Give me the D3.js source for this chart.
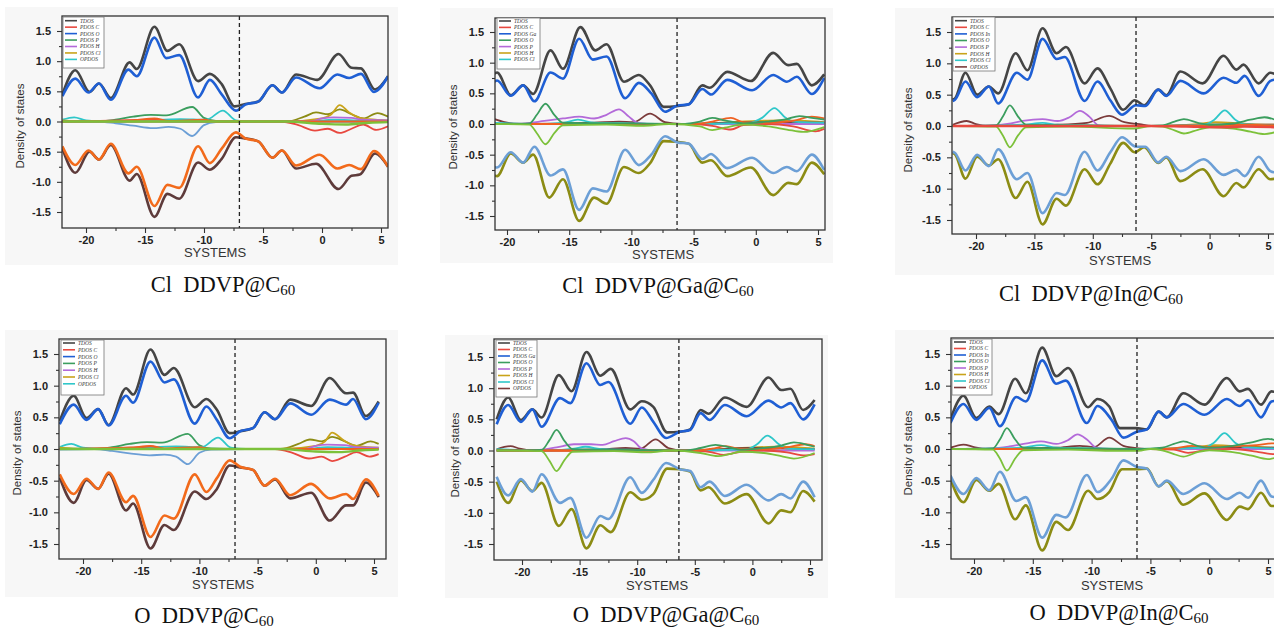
<!DOCTYPE html>
<html>
<head>
<meta charset="utf-8">
<script src="https://cdn.jsdelivr.net/npm/d3@7"></script>
<style>
  body { margin: 0; background: #fff; }
  svg { display: block; }
</style>
</head>
<body>
<svg id="chart" width="1274" height="631"></svg>
<script>
// ---- colours used by the DOS curves
const colTdos = '#454545', colMain = '#1f5fd4', colBrownDn = '#5e3b3b', colOrangeDn = '#f26a1b';
const colOliveDn = '#8c8c14', colSteelDn = '#6c9fd6', colGreen = '#3b9e5e', colLime = '#7cc13a';
const colPurple = '#b36ad9', colCyan = '#2fc7c9', colRed = '#e8483f', colGold = '#c9a31a';
const colBrown = '#7b3b3b', colOrange = '#f06020';

// ---- tick labels
const xMajor = [-20, -15, -10, -5, 0, 5];
const xMinor = [-17.5, -12.5, -7.5, -2.5, 2.5];
const yMajor = [-1.5, -1.0, -0.5, 0.0, 0.5, 1.0, 1.5];
const yMinor = [-1.25, -0.75, -0.25, 0.25, 0.75, 1.25];

// ---- legend entries
const legendClC60 = ['TDOS', 'PDOS C', 'PDOS O', 'PDOS P', 'PDOS H', 'PDOS Cl', 'OPDOS'];
const legendClGa = ['TDOS', 'PDOS C', 'PDOS Ga', 'PDOS O', 'PDOS P', 'PDOS H', 'PDOS Cl'];
const legendIn = ['TDOS', 'PDOS C', 'PDOS In', 'PDOS O', 'PDOS P', 'PDOS H', 'PDOS Cl', 'OPDOS'];
const legendOGa = ['TDOS', 'PDOS C', 'PDOS Ga', 'PDOS O', 'PDOS P', 'PDOS H', 'PDOS Cl', 'OPDOS'];
const legendCols7 = [colTdos, colRed, colMain, colGreen, colPurple, colGold, colCyan];
const legendCols8 = [colTdos, colRed, colMain, colGreen, colPurple, colGold, colCyan, colBrown];

// ---- Fermi level (dashed line) per panel
const fermi = [-7.0, -6.33, -6.3, -6.94, -6.38, -6.14];

// ================= Cl DDVP@C60 =================
const clC60_tdosUp = [[-22,0.45],[-20.9,0.85],[-19.7,0.49],[-18.9,0.63],[-17.9,0.39],[-16.3,0.98],[-15.7,0.87],[-14.2,1.57],[-13.1,1.17],[-12.1,1.28],[-10.5,0.67],[-9.5,0.79],[-8.5,0.62],[-7.4,0.25],[-6.5,0.29],[-5.4,0.33],[-4.2,0.6],[-3.4,0.48],[-2.2,0.78],[-0.4,0.69],[1.4,1.12],[2.5,0.89],[3.3,0.88],[4.5,0.53],[5.6,0.75]];
const clC60_pdosUp = [[-22,0.42],[-20.9,0.71],[-19.8,0.48],[-18.9,0.63],[-17.9,0.36],[-16.4,0.86],[-15.7,0.75],[-14.2,1.39],[-13.2,1.05],[-12.1,1.1],[-10.5,0.4],[-9.5,0.69],[-8.5,0.45],[-7.3,0.18],[-6.5,0.28],[-5.4,0.33],[-4.2,0.6],[-3.4,0.48],[-2.2,0.73],[-0.2,0.55],[1.3,0.78],[2.3,0.72],[3.3,0.79],[4.4,0.49],[5.6,0.75]];
const clC60_tdosDn = [[-22,-0.45],[-20.9,-0.85],[-19.7,-0.5],[-18.9,-0.63],[-17.9,-0.39],[-16.3,-0.98],[-15.7,-0.87],[-14.2,-1.58],[-13.1,-1.2],[-12.1,-1.28],[-10.5,-0.68],[-9.5,-0.8],[-8.5,-0.62],[-7.3,-0.26],[-6.5,-0.28],[-5.4,-0.33],[-4.2,-0.6],[-3.4,-0.48],[-2.2,-0.78],[-0.5,-0.7],[1.4,-1.12],[2.5,-0.9],[3.2,-0.88],[4.5,-0.53],[5.6,-0.75]];
const clC60_pdosDn = [[-22,-0.41],[-20.9,-0.72],[-19.8,-0.48],[-18.9,-0.63],[-17.9,-0.37],[-16.4,-0.86],[-15.7,-0.75],[-14.2,-1.4],[-13.1,-1.05],[-12.1,-1.1],[-10.5,-0.41],[-9.5,-0.69],[-8.5,-0.45],[-7.3,-0.18],[-6.5,-0.28],[-5.4,-0.33],[-4.2,-0.6],[-3.4,-0.48],[-2.2,-0.73],[-0.2,-0.55],[1.3,-0.78],[2.3,-0.72],[3.3,-0.79],[4.4,-0.49],[5.6,-0.75]];
const clC60_green = [[-22,0.01],[-19,0],[-17.5,0.03],[-16,0.08],[-14.5,0.11],[-13.2,0.1],[-11,0.24],[-10,0.06],[-9,0.01],[-6,0],[5.6,0]];
const clC60_steel = [[-22,-0.01],[-19,0],[-17.5,-0.03],[-16,-0.07],[-14.3,-0.11],[-13,-0.09],[-12,-0.12],[-11,-0.24],[-10,-0.06],[-9,-0.01],[-6,0],[5.6,0]];
const clC60_cyan = [[-22,0.03],[-21,0.07],[-20,0.02],[-18,0],[-15,0.02],[-12,0.04],[-9.8,0.03],[-8.4,0.18],[-7.3,0.02],[-6,0],[-1,0],[1,0.03],[3,0.02],[5.6,0.01]];
const clC60_olive = [[-22,0],[-3,0],[-1.5,0.08],[-0.5,0.15],[0.5,0.12],[1.5,0.2],[2.5,0.12],[3.5,0.05],[4.7,0.14],[5.6,0.08]];
const clC60_gold = [[-22,0.02],[-20,0],[-3,0],[0,0.05],[0.8,0.12],[1.5,0.27],[2.3,0.15],[3.2,0.06],[4.5,0.03],[5.6,0.02]];
const clC60_red = [[-22,0],[-15,0.03],[-14.2,0.04],[-13,0],[-3.5,0],[-2,-0.06],[-0.6,-0.15],[0.5,-0.12],[1.5,-0.19],[2.5,-0.12],[3.5,-0.05],[4.6,-0.14],[5.6,-0.08]];
const clC60_purple = [[-22,0],[-1,0],[0,0.05],[1,0.07],[2.5,0.06],[3.5,0.03],[5.6,0.02]];
const clC60_orange = [[-22,0],[-16,0.02],[-14.2,0.05],[-13,0.01],[-10,0.03],[-9,0],[5.6,0]];
const clC60_lime = [[-22,0],[-3,0],[0,-0.04],[2,-0.05],[4,-0.02],[5.6,-0.01]];

// ================= Cl DDVP@Ga@C60 =================
const clGa_tdosUp = [[-21,0.82],[-20.8,0.84],[-19.7,0.47],[-18.7,0.63],[-17.9,0.49],[-16.5,1.2],[-15.5,0.9],[-14.1,1.58],[-12.9,1.2],[-12.0,1.3],[-10.6,0.69],[-9.4,0.8],[-8.5,0.63],[-7.4,0.28],[-6.4,0.29],[-5.4,0.32],[-4.3,0.63],[-3.7,0.59],[-2.3,0.85],[-0.4,0.7],[1.4,1.16],[2.6,0.96],[3.3,0.98],[4.5,0.63],[5.5,0.81]];
const clGa_pdosUp = [[-21,0.69],[-20.8,0.71],[-19.7,0.46],[-18.7,0.63],[-17.8,0.37],[-16.5,0.84],[-15.5,0.74],[-14.2,1.39],[-13.1,1.05],[-12,1.1],[-10.5,0.42],[-9.4,0.67],[-8.4,0.5],[-7.3,0.2],[-6.3,0.3],[-5.4,0.32],[-4.3,0.57],[-3.6,0.48],[-2.3,0.72],[-0.3,0.55],[1.4,0.8],[2.5,0.69],[3.3,0.77],[4.5,0.49],[5.5,0.75]];
const clGa_tdosDn = [[-21,-0.84],[-20.8,-0.85],[-19.7,-0.48],[-18.7,-0.63],[-17.9,-0.5],[-16.6,-1.2],[-15.5,-0.9],[-14.2,-1.58],[-13,-1.2],[-12,-1.3],[-10.6,-0.7],[-9.4,-0.8],[-8.5,-0.64],[-7.4,-0.28],[-6.4,-0.29],[-5.4,-0.32],[-4.3,-0.63],[-3.6,-0.59],[-2.3,-0.85],[-0.4,-0.71],[1.4,-1.16],[2.6,-0.96],[3.3,-0.98],[4.5,-0.63],[5.5,-0.82]];
const clGa_pdosDn = [[-21,-0.7],[-20.8,-0.71],[-19.7,-0.46],[-18.7,-0.63],[-17.8,-0.37],[-16.5,-0.84],[-15.5,-0.74],[-14.2,-1.4],[-13.1,-1.05],[-12,-1.1],[-10.5,-0.42],[-9.4,-0.67],[-8.4,-0.5],[-7.3,-0.2],[-6.3,-0.3],[-5.4,-0.32],[-4.3,-0.57],[-3.6,-0.49],[-2.3,-0.72],[-0.3,-0.55],[1.4,-0.8],[2.5,-0.7],[3.3,-0.77],[4.5,-0.5],[5.5,-0.75]];
const clGa_green = [[-21,0],[-18.2,0.01],[-17.6,0.15],[-16.9,0.33],[-16.2,0.15],[-15.5,0.02],[-12,0.01],[-6,0],[-4.5,0.04],[-3.5,0.1],[-2.5,0.06],[-1,0.01],[1,0.04],[2.5,0.08],[3.5,0.13],[4.5,0.1],[5.5,0.07]];
const clGa_lime = [[-21,0],[-18.2,-0.01],[-17.6,-0.15],[-16.9,-0.33],[-16.2,-0.15],[-15.5,-0.02],[-12,-0.01],[-9,-0.03],[-7,0],[-4.5,-0.04],[-3.5,-0.1],[-2.5,-0.06],[-1,-0.01],[1,-0.04],[2.5,-0.09],[3.8,-0.13],[5.5,-0.05]];
const clGa_purple = [[-21,0],[-18.5,0.01],[-17,0.05],[-15.5,0.09],[-14.2,0.12],[-13,0.09],[-12,0.15],[-11,0.24],[-10.2,0.12],[-9.5,0.02],[-8,0],[5.5,0]];
const clGa_brown = [[-21,0.08],[-20.2,0.03],[-19,0],[-13,0.02],[-11,0.04],[-9.8,0.03],[-8.5,0.17],[-7.3,0.03],[-6,0],[-4,0.01],[0,0.03],[5.5,0.02]];
const clGa_cyan = [[-21,0.02],[-18,0],[-15.5,0.02],[-14.3,0.07],[-13,0.02],[-10,0.01],[-6,0],[-0.5,0.02],[0.5,0.1],[1.5,0.26],[2.4,0.1],[3,0.04],[5.5,0.02]];
const clGa_orange = [[-21,0],[-5,0],[-3.5,0.04],[-2,0.1],[-1,0.03],[1,0.02],[3,0.05],[4.5,0.12],[5.5,0.09]];
const clGa_red = [[-21,0],[-5,0],[-3.5,-0.03],[-2,-0.09],[-1,-0.02],[1,0],[3,-0.04],[4.8,-0.12],[5.5,-0.08]];
const clGa_gold = [[-21,0],[-5,0],[-2,0.03],[0,0.05],[2,0.06],[4,0.05],[5.5,0.03]];

// ================= Cl DDVP@In@C60 =================
const clIn_tdosUp = [[-22,0.42],[-21.8,0.44],[-20.9,0.85],[-19.9,0.5],[-18.9,0.63],[-18.1,0.52],[-16.6,1.16],[-15.6,0.89],[-14.3,1.56],[-13.1,1.16],[-12.3,1.26],[-10.7,0.68],[-9.6,0.92],[-8.5,0.6],[-7.4,0.26],[-6.4,0.41],[-5.6,0.33],[-4.4,0.58],[-3.7,0.49],[-2.5,0.87],[-0.6,0.68],[1.2,1.12],[2.3,0.9],[2.9,0.98],[4.2,0.68],[5.2,0.85],[5.6,0.83]];
const clIn_pdosUp = [[-22,0.4],[-21.8,0.42],[-20.9,0.71],[-19.9,0.46],[-18.9,0.63],[-18.1,0.36],[-16.5,0.85],[-15.6,0.74],[-14.3,1.39],[-13.1,1.07],[-12.4,1.1],[-10.7,0.4],[-9.6,0.71],[-8.5,0.41],[-7.5,0.18],[-6.3,0.33],[-5.5,0.32],[-4.4,0.58],[-3.7,0.48],[-2.5,0.72],[-0.5,0.52],[1.2,0.77],[2.3,0.69],[3.0,0.8],[4.2,0.48],[5.2,0.72],[5.6,0.74]];
const clIn_tdosDn = [[-22,-0.43],[-21.8,-0.45],[-20.9,-0.84],[-19.9,-0.49],[-18.9,-0.63],[-18.1,-0.53],[-16.6,-1.15],[-15.6,-0.89],[-14.3,-1.57],[-13.1,-1.16],[-12.3,-1.27],[-10.7,-0.69],[-9.6,-0.93],[-8.5,-0.6],[-7.4,-0.27],[-6.4,-0.42],[-5.6,-0.34],[-4.4,-0.59],[-3.7,-0.5],[-2.5,-0.88],[-0.6,-0.69],[1.2,-1.12],[2.3,-0.91],[2.9,-0.98],[4.2,-0.69],[5.2,-0.85],[5.6,-0.84]];
const clIn_pdosDn = [[-22,-0.41],[-21.8,-0.43],[-20.9,-0.71],[-19.9,-0.46],[-18.9,-0.64],[-18.1,-0.37],[-16.5,-0.85],[-15.6,-0.75],[-14.3,-1.39],[-13.1,-1.07],[-12.4,-1.1],[-10.7,-0.41],[-9.6,-0.71],[-8.5,-0.42],[-7.5,-0.18],[-6.3,-0.33],[-5.5,-0.33],[-4.4,-0.58],[-3.7,-0.49],[-2.5,-0.72],[-0.5,-0.53],[1.2,-0.78],[2.3,-0.7],[3.0,-0.8],[4.2,-0.49],[5.2,-0.72],[5.6,-0.74]];
const clIn_green = [[-22,0],[-18.3,0.01],[-17.7,0.15],[-17.1,0.33],[-16.4,0.15],[-15.7,0.02],[-12,0.01],[-6,0],[-4,0.01],[-3,0.07],[-2.2,0.11],[-1,0.05],[0,0.02],[2,0.04],[3.5,0.1],[4.7,0.14],[5.6,0.1]];
const clIn_lime = [[-22,0],[-18.3,-0.01],[-17.7,-0.15],[-17.1,-0.34],[-16.4,-0.15],[-15.7,-0.02],[-12,-0.01],[-6.5,-0.04],[-5,0],[-4,-0.01],[-3,-0.07],[-2.2,-0.12],[-1,-0.06],[0,-0.02],[2,-0.04],[3.5,-0.09],[4.7,-0.13],[5.6,-0.1]];
const clIn_purple = [[-22,0],[-18.5,0.01],[-17,0.04],[-16,0.08],[-14.3,0.11],[-13,0.08],[-12,0.14],[-11.1,0.24],[-10.3,0.15],[-9.5,0.01],[-8.5,0],[5.6,0]];
const clIn_brown = [[-22,0.02],[-20.8,0.08],[-20,0.03],[-19,0],[-13,0.02],[-10.5,0.05],[-8.6,0.16],[-7.3,0.06],[-6,0.03],[-5,0],[0,0.02],[5.6,0.02]];
const clIn_cyan = [[-22,0],[-16,0.02],[-14.3,0.05],[-13,0.02],[-10,0.01],[-6,0],[-0.5,0.02],[0.4,0.1],[1.3,0.25],[2.2,0.1],[3,0.03],[5.6,0.01]];
const clIn_red = [[-22,0],[-5,0],[-2,-0.01],[1,-0.02],[3,-0.01],[5.6,-0.02]];
const clIn_orange = [[-22,0],[-5,0],[-2,0.01],[1,0.01],[3,0.02],[5.6,0.01]];
const clIn_gold = [[-22,0],[-5,0],[-1,0.03],[0.5,0.06],[2,0.05],[3.5,0.03],[5.6,0.02]];

// ================= O DDVP@C60 =================
const oC60_tdosUp = [[-22,0.44],[-20.8,0.84],[-19.7,0.49],[-18.7,0.63],[-17.8,0.38],[-16.3,0.96],[-15.7,0.86],[-14.2,1.57],[-13.0,1.17],[-12.2,1.28],[-10.4,0.66],[-9.4,0.79],[-8.5,0.62],[-7.4,0.25],[-6.5,0.28],[-5.4,0.33],[-4.4,0.58],[-3.5,0.47],[-2.2,0.78],[-0.4,0.68],[1.2,1.12],[2.6,0.88],[3.2,0.89],[4.3,0.52],[5.4,0.75]];
const oC60_pdosUp = [[-22,0.39],[-20.8,0.7],[-19.7,0.46],[-18.7,0.63],[-17.8,0.37],[-16.3,0.84],[-15.7,0.73],[-14.2,1.38],[-13.0,1.05],[-12.2,1.1],[-10.4,0.4],[-9.4,0.67],[-8.5,0.46],[-7.4,0.17],[-6.5,0.28],[-5.4,0.33],[-4.4,0.58],[-3.5,0.47],[-2.2,0.72],[-0.4,0.54],[1.2,0.78],[2.6,0.7],[3.2,0.79],[4.3,0.47],[5.4,0.73]];
const oC60_tdosDn = [[-22,-0.45],[-20.8,-0.85],[-19.7,-0.49],[-18.7,-0.63],[-17.8,-0.39],[-16.3,-0.97],[-15.7,-0.86],[-14.2,-1.57],[-13.0,-1.2],[-12.2,-1.28],[-10.4,-0.67],[-9.4,-0.79],[-8.5,-0.63],[-7.4,-0.26],[-6.5,-0.29],[-5.4,-0.33],[-4.4,-0.58],[-3.5,-0.48],[-2.2,-0.78],[-0.4,-0.69],[1.2,-1.13],[2.6,-0.89],[3.2,-0.89],[4.3,-0.53],[5.4,-0.76]];
const oC60_pdosDn = [[-22,-0.4],[-20.8,-0.71],[-19.7,-0.47],[-18.7,-0.63],[-17.8,-0.37],[-16.3,-0.84],[-15.7,-0.74],[-14.2,-1.39],[-13.0,-1.05],[-12.2,-1.1],[-10.4,-0.4],[-9.4,-0.68],[-8.5,-0.46],[-7.4,-0.18],[-6.5,-0.28],[-5.4,-0.33],[-4.4,-0.58],[-3.5,-0.47],[-2.2,-0.73],[-0.4,-0.55],[1.2,-0.78],[2.6,-0.71],[3.2,-0.79],[4.3,-0.48],[5.4,-0.74]];
const oC60_green = [[-22,0.01],[-19,0],[-17.5,0.03],[-16,0.08],[-14.5,0.11],[-13.2,0.1],[-11,0.24],[-10,0.06],[-9,0.01],[-6,0],[5.4,0]];
const oC60_steel = [[-22,-0.01],[-19,0],[-17.5,-0.03],[-16,-0.07],[-14.3,-0.1],[-13,-0.09],[-12,-0.12],[-11,-0.24],[-10,-0.06],[-9,-0.01],[-6,0],[5.4,0]];
const oC60_cyan = [[-22,0.03],[-21,0.08],[-20,0.02],[-18,0],[-15,0.02],[-12,0.04],[-9.8,0.03],[-8.4,0.18],[-7.3,0.02],[-6,0],[-1,0],[1,0.03],[3,0.02],[5.4,0.01]];
const oC60_olive = [[-22,0],[-3,0],[-1.5,0.08],[-0.5,0.15],[0.5,0.12],[1.4,0.19],[2.5,0.12],[3.5,0.05],[4.7,0.12],[5.4,0.08]];
const oC60_gold = [[-22,0.02],[-20,0],[-3,0],[0,0.05],[0.8,0.12],[1.4,0.26],[2.3,0.15],[3.2,0.06],[4.5,0.03],[5.4,0.02]];
const oC60_red = [[-22,0],[-15,0.03],[-14.2,0.04],[-13,0],[-3.5,0],[-2,-0.06],[-0.6,-0.15],[0.5,-0.12],[1.4,-0.19],[2.5,-0.12],[3.5,-0.05],[4.6,-0.12],[5.4,-0.08]];
const oC60_purple = [[-22,0],[-1,0],[0,0.05],[1,0.07],[2.5,0.06],[3.5,0.03],[5.4,0.02]];
const oC60_orange = [[-22,0],[-16,0.02],[-14.2,0.05],[-13,0.01],[-10,0.03],[-9,0],[5.4,0]];
const oC60_lime = [[-22,0],[-3,0],[0,-0.04],[2,-0.05],[4,-0.02],[5.4,-0.01]];

// ================= O DDVP@Ga@C60 =================
const oGa_tdosUp = [[-22.2,0.5],[-21.2,0.85],[-20.1,0.49],[-19.1,0.66],[-18.3,0.53],[-16.8,1.21],[-15.7,0.95],[-14.4,1.58],[-13.2,1.2],[-12.3,1.31],[-10.6,0.66],[-9.6,0.79],[-8.6,0.7],[-7.4,0.29],[-6.3,0.3],[-5.4,0.34],[-4.5,0.65],[-3.8,0.59],[-2.4,0.85],[-0.5,0.7],[1.4,1.17],[2.5,0.97],[3.3,0.99],[4.4,0.65],[5.4,0.81]];
const oGa_pdosUp = [[-22.2,0.42],[-21.2,0.73],[-20.1,0.46],[-19.1,0.66],[-18.3,0.38],[-16.7,0.84],[-15.8,0.76],[-14.4,1.4],[-13.2,1.05],[-12.5,1.1],[-10.6,0.43],[-9.6,0.69],[-8.6,0.46],[-7.5,0.2],[-6.3,0.3],[-5.4,0.33],[-4.5,0.6],[-3.7,0.49],[-2.4,0.73],[-0.5,0.55],[1.4,0.8],[2.5,0.69],[3.3,0.76],[4.4,0.5],[5.4,0.74]];
const oGa_tdosDn = [[-22.2,-0.5],[-21.2,-0.84],[-20.1,-0.48],[-19.1,-0.65],[-18.3,-0.52],[-16.8,-1.21],[-15.7,-0.94],[-14.4,-1.57],[-13.2,-1.2],[-12.3,-1.31],[-10.6,-0.67],[-9.6,-0.79],[-8.6,-0.7],[-7.4,-0.29],[-6.3,-0.3],[-5.4,-0.34],[-4.5,-0.64],[-3.8,-0.59],[-2.4,-0.85],[-0.5,-0.7],[1.4,-1.17],[2.5,-0.96],[3.3,-0.99],[4.4,-0.65],[5.4,-0.82]];
const oGa_pdosDn = [[-22.2,-0.42],[-21.2,-0.72],[-20.1,-0.46],[-19.1,-0.66],[-18.3,-0.38],[-16.7,-0.84],[-15.8,-0.76],[-14.4,-1.4],[-13.2,-1.05],[-12.5,-1.1],[-10.6,-0.43],[-9.6,-0.68],[-8.6,-0.47],[-7.5,-0.2],[-6.3,-0.3],[-5.4,-0.33],[-4.5,-0.59],[-3.7,-0.5],[-2.4,-0.73],[-0.5,-0.55],[1.4,-0.8],[2.5,-0.7],[3.3,-0.77],[4.4,-0.5],[5.4,-0.75]];
const oGa_green = [[-22.2,0],[-18.3,0.01],[-17.6,0.17],[-17,0.33],[-16.3,0.15],[-15.6,0.02],[-12,0.01],[-6,0],[-4.5,0.04],[-3.2,0.09],[-2,0.05],[-1,0.01],[1,0.04],[2.5,0.08],[3.6,0.13],[4.6,0.1],[5.4,0.06]];
const oGa_lime = [[-22.2,0],[-18.3,-0.01],[-17.6,-0.17],[-17,-0.33],[-16.3,-0.15],[-15.6,-0.02],[-12,-0.01],[-9,-0.03],[-7,0],[-4.5,-0.04],[-3,-0.09],[-2,-0.06],[-1,-0.02],[1,-0.04],[2.5,-0.09],[3.6,-0.13],[5.4,-0.04]];
const oGa_purple = [[-22.2,0],[-18.5,0.01],[-17,0.05],[-15.5,0.1],[-14,0.1],[-13,0.09],[-12,0.15],[-11,0.2],[-10.3,0.15],[-9.6,0.03],[-8.5,0],[5.4,0]];
const oGa_brown = [[-22.2,0.02],[-21,0.07],[-20.2,0.03],[-19,0],[-13,0.02],[-11,0.04],[-9.7,0.03],[-8.4,0.18],[-7.3,0.04],[-6,0],[-4,0.01],[0,0.04],[5.4,0.02]];
const oGa_cyan = [[-22.2,0.02],[-18,0],[-15.5,0.03],[-14.5,0.06],[-13,0.02],[-10,0.01],[-6,0],[-0.5,0.02],[0.4,0.1],[1.3,0.24],[2.3,0.1],[3,0.03],[5.4,0.02]];
const oGa_orange = [[-22.2,0],[-5,0],[-3.5,0.03],[-2.3,0.07],[-1,0.02],[1,0.02],[3,0.05],[4.6,0.1],[5.4,0.07]];
const oGa_red = [[-22.2,0],[-5,0],[-3.5,-0.03],[-2.5,-0.07],[-1,-0.02],[1,0],[3,-0.03],[4.6,-0.08],[5.4,-0.06]];
const oGa_gold = [[-22.2,0],[-5,0],[-2,0.03],[0,0.05],[2,0.06],[4,0.05],[5.4,0.03]];

// ================= O DDVP@In@C60 =================
const oIn_tdosUp = [[-22,0.47],[-20.9,0.84],[-19.8,0.49],[-18.7,0.67],[-17.9,0.55],[-16.5,1.11],[-15.6,0.88],[-14.2,1.6],[-13.0,1.15],[-12.0,1.28],[-10.3,0.66],[-9.5,0.79],[-8.5,0.67],[-7.6,0.33],[-6.2,0.33],[-5.3,0.31],[-4.3,0.59],[-3.6,0.5],[-2.2,0.88],[-0.4,0.7],[1.5,1.12],[2.6,0.91],[3.3,0.95],[4.4,0.7],[5.3,0.91],[5.6,0.9]];
const oIn_pdosUp = [[-22,0.41],[-20.9,0.71],[-19.8,0.46],[-18.7,0.65],[-17.8,0.36],[-16.4,0.82],[-15.6,0.75],[-14.2,1.4],[-13.0,1.03],[-12.2,1.08],[-10.4,0.41],[-9.5,0.68],[-8.3,0.46],[-7.3,0.18],[-6.2,0.27],[-5.3,0.31],[-4.3,0.59],[-3.6,0.5],[-2.2,0.71],[-0.4,0.54],[1.5,0.79],[2.6,0.68],[3.3,0.77],[4.4,0.5],[5.3,0.75],[5.6,0.76]];
const oIn_tdosDn = [[-22,-0.47],[-20.9,-0.84],[-19.8,-0.49],[-18.7,-0.66],[-17.9,-0.55],[-16.5,-1.11],[-15.6,-0.89],[-14.2,-1.6],[-13.0,-1.15],[-12.0,-1.28],[-10.3,-0.66],[-9.5,-0.79],[-8.5,-0.68],[-7.4,-0.32],[-6.2,-0.32],[-5.3,-0.31],[-4.3,-0.59],[-3.6,-0.51],[-2.2,-0.88],[-0.4,-0.7],[1.5,-1.12],[2.6,-0.91],[3.3,-0.95],[4.4,-0.69],[5.3,-0.9],[5.6,-0.9]];
const oIn_pdosDn = [[-22,-0.42],[-20.9,-0.71],[-19.8,-0.46],[-18.7,-0.65],[-17.8,-0.36],[-16.4,-0.82],[-15.6,-0.76],[-14.2,-1.4],[-13.0,-1.04],[-12.2,-1.08],[-10.4,-0.41],[-9.5,-0.68],[-8.3,-0.47],[-7.3,-0.18],[-6.2,-0.28],[-5.3,-0.31],[-4.3,-0.59],[-3.6,-0.5],[-2.2,-0.71],[-0.4,-0.54],[1.5,-0.79],[2.6,-0.69],[3.3,-0.77],[4.4,-0.5],[5.3,-0.75],[5.6,-0.76]];
const oIn_green = [[-22,0],[-18.4,0.01],[-17.8,0.15],[-17.2,0.33],[-16.5,0.15],[-15.8,0.02],[-12,0.01],[-6,0],[-4,0.02],[-3,0.08],[-2.2,0.12],[-1,0.05],[0,0.02],[2,0.05],[3.5,0.1],[5,0.16],[5.6,0.14]];
const oIn_lime = [[-22,0],[-18.4,-0.01],[-17.8,-0.15],[-17.2,-0.34],[-16.5,-0.15],[-15.8,-0.02],[-12,-0.01],[-8,-0.03],[-6,-0.03],[-5,0],[-4,-0.02],[-3,-0.08],[-2.2,-0.12],[-1,-0.05],[0,-0.02],[2,-0.05],[3.5,-0.1],[5,-0.16],[5.6,-0.14]];
const oIn_purple = [[-22,0],[-18.5,0.01],[-17,0.04],[-15.5,0.09],[-14.3,0.12],[-13,0.08],[-12,0.14],[-11.2,0.23],[-10.4,0.15],[-9.6,0.02],[-8.5,0],[5.6,0]];
const oIn_brown = [[-22,0.02],[-20.9,0.07],[-20,0.03],[-19,0],[-13,0.02],[-11,0.05],[-9.8,0.03],[-8.5,0.18],[-7.3,0.05],[-6,0.01],[-5,0],[0,0.03],[5.6,0.02]];
const oIn_cyan = [[-22,0],[-16,0.02],[-14.3,0.06],[-13,0.02],[-10,0.01],[-6,0],[-0.5,0.02],[0.4,0.1],[1.3,0.25],[2.2,0.1],[3,0.03],[5.6,0.01]];
const oIn_orange = [[-22,0],[-5,0],[-3,0.01],[-1.5,0.05],[0,0.03],[2,0.04],[4,0.06],[5.4,0.09],[5.6,0.09]];
const oIn_red = [[-22,0],[-5,0],[-3,-0.01],[-1.8,-0.06],[0,-0.01],[2,0],[4,-0.04],[5.4,-0.08],[5.6,-0.08]];
const oIn_gold = [[-22,0],[-5,0],[-1,0.03],[0.5,0.06],[2,0.05],[3.5,0.04],[5.6,0.02]];

// curve lists per panel (drawing order = list order)
const curvesClC60 = [
  [clC60_tdosUp, colTdos, 2.6], [clC60_pdosUp, colMain, 2.6],
  [clC60_tdosDn, colBrownDn, 2.6], [clC60_pdosDn, colOrangeDn, 2.6],
  [clC60_green, colGreen, 1.8], [clC60_steel, colSteelDn, 1.8], [clC60_cyan, colCyan, 1.8],
  [clC60_olive, colOliveDn, 1.8], [clC60_gold, colGold, 1.8], [clC60_red, colRed, 1.8],
  [clC60_purple, colPurple, 1.8], [clC60_orange, colOrange, 1.8], [clC60_lime, colLime, 2.4]
];
const curvesClGa = [
  [clGa_tdosUp, colTdos, 2.6], [clGa_pdosUp, colMain, 2.6],
  [clGa_tdosDn, colOliveDn, 2.6], [clGa_pdosDn, colSteelDn, 2.6],
  [clGa_gold, colGold, 1.8], [clGa_brown, colBrown, 1.8], [clGa_purple, colPurple, 1.8],
  [clGa_cyan, colCyan, 1.8], [clGa_red, colRed, 1.8], [clGa_orange, colOrange, 1.8],
  [clGa_green, colGreen, 1.8], [clGa_lime, colLime, 1.8]
];
const curvesClIn = [
  [clIn_tdosUp, colTdos, 2.6], [clIn_pdosUp, colMain, 2.6],
  [clIn_tdosDn, colOliveDn, 2.6], [clIn_pdosDn, colSteelDn, 2.6],
  [clIn_gold, colGold, 1.8], [clIn_brown, colBrown, 1.8], [clIn_purple, colPurple, 1.8],
  [clIn_cyan, colCyan, 1.8], [clIn_orange, colOrange, 1.8], [clIn_green, colGreen, 1.8],
  [clIn_lime, colLime, 1.8], [clIn_red, colRed, 2.4]
];
const curvesOC60 = [
  [oC60_tdosUp, colTdos, 2.6], [oC60_pdosUp, colMain, 2.6],
  [oC60_tdosDn, colBrownDn, 2.6], [oC60_pdosDn, colOrangeDn, 2.6],
  [oC60_green, colGreen, 1.8], [oC60_steel, colSteelDn, 1.8], [oC60_cyan, colCyan, 1.8],
  [oC60_olive, colOliveDn, 1.8], [oC60_gold, colGold, 1.8], [oC60_red, colRed, 1.8],
  [oC60_purple, colPurple, 1.8], [oC60_orange, colOrange, 1.8], [oC60_lime, colLime, 2.4]
];
const curvesOGa = [
  [oGa_tdosUp, colTdos, 2.6], [oGa_pdosUp, colMain, 2.6],
  [oGa_tdosDn, colOliveDn, 2.6], [oGa_pdosDn, colSteelDn, 2.6],
  [oGa_gold, colGold, 1.8], [oGa_brown, colBrown, 1.8], [oGa_purple, colPurple, 1.8],
  [oGa_cyan, colCyan, 1.8], [oGa_red, colRed, 1.8], [oGa_orange, colOrange, 1.8],
  [oGa_green, colGreen, 1.8], [oGa_lime, colLime, 1.8]
];
const curvesOIn = [
  [oIn_tdosUp, colTdos, 2.6], [oIn_pdosUp, colMain, 2.6],
  [oIn_tdosDn, colOliveDn, 2.6], [oIn_pdosDn, colSteelDn, 2.6],
  [oIn_gold, colGold, 1.8], [oIn_brown, colBrown, 1.8], [oIn_purple, colPurple, 1.8],
  [oIn_cyan, colCyan, 1.8], [oIn_red, colRed, 1.8], [oIn_orange, colOrange, 1.8],
  [oIn_green, colGreen, 1.8], [oIn_lime, colLime, 1.8]
];

// panel layout (pixel placement of each small figure)
const panels = [
  { caption: ['Cl  DDVP@C', '60'], curves: curvesClC60, legend: legendClC60, legendCols: legendCols7,
    bg: [5, 7, 393, 258], frame: [62, 16, 388, 228], x20: 86, x5: 381, y15: 31, ym15: 212,
    xlab: [215, 257], ylab: [20, 126], cap: [223, 292], leg: [63, 17, 41, 51, 20.7, 6.45] },
  { caption: ['Cl  DDVP@Ga@C', '60'], curves: curvesClGa, legend: legendClGa, legendCols: legendCols7,
    bg: [440, 8, 393, 255], frame: [495, 18, 825, 230], x20: 507, x5: 818, y15: 32, ym15: 216,
    xlab: [663, 259], ylab: [453, 127], cap: [658, 293], leg: [497, 18, 43, 51, 21, 6.4] },
  { caption: ['Cl  DDVP@In@C', '60'], curves: curvesClIn, legend: legendIn, legendCols: legendCols8,
    bg: [895, 8, 379, 267], frame: [952, 17, 1290, 234], x20: 976, x5: 1268, y15: 32, ym15: 220,
    xlab: [1120, 265], ylab: [908, 130], cap: [1091, 301], leg: [953, 17, 42, 54, 20.7, 6.6] },
  { caption: ['O  DDVP@C', '60'], curves: curvesOC60, legend: legendClC60, legendCols: legendCols7,
    bg: [5, 330, 393, 267], frame: [59, 339, 386, 559], x20: 83, x5: 374, y15: 354, ym15: 544,
    xlab: [223, 589], ylab: [17, 453], cap: [204, 623], leg: [61, 340, 43, 55, 343, 6.8] },
  { caption: ['O  DDVP@Ga@C', '60'], curves: curvesOGa, legend: legendOGa, legendCols: legendCols8,
    bg: [445, 335, 383, 263], frame: [494, 339, 822, 560], x20: 522, x5: 810, y15: 357, ym15: 544,
    xlab: [657, 590], ylab: [455, 455], cap: [666, 622], leg: [496, 340, 41, 57, 343, 6.5] },
  { caption: ['O  DDVP@In@C', '60'], curves: curvesOIn, legend: legendIn, legendCols: legendCols8,
    bg: [895, 330, 379, 268], frame: [951, 338, 1290, 559], x20: 974, x5: 1268, y15: 354, ym15: 544,
    xlab: [1112, 590], ylab: [908, 453], cap: [1119, 620], leg: [952, 339, 40, 56, 342, 6.5] }
];

const svg = d3.select('#chart');

panels.forEach((p, i) => {
  const g = svg.append('g');
  const [fl, ft, fr, fb] = p.frame;
  const x = d3.scaleLinear().domain([-20, 5]).range([p.x20, p.x5]);
  const y = d3.scaleLinear().domain([-1.5, 1.5]).range([p.ym15, p.y15]);

  //faint grey scan background
  g.append('rect')
    .attr('x', p.bg[0]).attr('y', p.bg[1]).attr('width', p.bg[2]).attr('height', p.bg[3])
    .attr('fill', '#f7f7f7');

  g.append('clipPath').attr('id', 'clip' + i)
    .append('rect').attr('x', fl).attr('y', ft).attr('width', fr - fl).attr('height', fb - ft);

  const plot = g.append('g').attr('clip-path', 'url(#clip' + i + ')');

  const lineGen = d3.line()
    .x(d => x(d[0]))
    .y(d => y(d[1]))
    .curve(d3.curveMonotoneX);

  p.curves.forEach(c => {
    plot.append('path')
      .attr('d', lineGen(c[0]))
      .attr('fill', 'none')
      .attr('stroke', c[1])
      .attr('stroke-width', c[2])
      .attr('stroke-linejoin', 'round');
  });

  // Fermi level
  plot.append('line')
    .attr('x1', x(fermi[i])).attr('x2', x(fermi[i]))
    .attr('y1', ft).attr('y2', fb)
    .attr('stroke', '#222').attr('stroke-width', 1.3)
    .attr('stroke-dasharray', '4,3');

  // frame
  g.append('rect')
    .attr('x', fl).attr('y', ft).attr('width', fr - fl).attr('height', fb - ft)
    .attr('fill', 'none').attr('stroke', '#333').attr('stroke-width', 1.3);

  // axes
  const styleAxis = sel => {
    sel.select('.domain').remove();
    sel.attr('font-family', 'Arial, "Liberation Sans", sans-serif')
      .attr('font-size', 11).attr('font-weight', 'bold');
    sel.selectAll('.tick line').attr('stroke', '#333').attr('stroke-width', 1.1);
    sel.selectAll('.tick text').attr('fill', '#222');
  };

  g.append('g').attr('transform', 'translate(0,' + fb + ')')
    .call(d3.axisBottom(x).tickValues(xMajor).tickSize(5).tickPadding(3).tickFormat(d => String(d)))
    .call(styleAxis);
  g.append('g').attr('transform', 'translate(0,' + fb + ')')
    .call(d3.axisBottom(x).tickValues(xMinor).tickSize(3).tickFormat(''))
    .call(styleAxis);
  g.append('g').attr('transform', 'translate(' + fl + ',0)')
    .call(d3.axisLeft(y).tickValues(yMajor).tickSize(5).tickPadding(6).tickFormat(d => d.toFixed(1)))
    .call(styleAxis);
  g.append('g').attr('transform', 'translate(' + fl + ',0)')
    .call(d3.axisLeft(y).tickValues(yMinor).tickSize(3).tickFormat(''))
    .call(styleAxis);

  // axis titles
  g.append('text')
    .attr('x', p.xlab[0]).attr('y', p.xlab[1])
    .attr('text-anchor', 'middle')
    .attr('font-family', 'Arial, "Liberation Sans", sans-serif')
    .attr('font-size', 13).attr('fill', '#333')
    .text('SYSTEMS');

  g.append('text')
    .attr('transform', 'translate(' + p.ylab[0] + ',' + p.ylab[1] + ') rotate(-90)')
    .attr('text-anchor', 'middle').attr('dy', '0.35em')
    .attr('font-family', 'Arial, "Liberation Sans", sans-serif')
    .attr('font-size', 11.5).attr('fill', '#333')
    .text('Density of states');

  // legend
  const [lx, ly, lw, lh, row0, step] = p.leg;
  const leg = g.append('g');
  leg.append('rect')
    .attr('x', lx).attr('y', ly).attr('width', lw).attr('height', lh)
    .attr('fill', '#fff').attr('stroke', '#777').attr('stroke-width', 0.8);
  p.legend.forEach((name, k) => {
    const yy = row0 + k * step;
    leg.append('line')
      .attr('x1', lx + 2).attr('x2', lx + 14).attr('y1', yy).attr('y2', yy)
      .attr('stroke', p.legendCols[k]).attr('stroke-width', 1.6);
    leg.append('text')
      .attr('x', lx + 17).attr('y', yy).attr('dy', '0.35em')
      .attr('font-family', '"Liberation Serif", "Times New Roman", serif')
      .attr('font-style', 'italic').attr('font-size', 5.5).attr('fill', '#333')
      .text(name);
  });

  // caption below the plot
  const cap = g.append('text')
    .attr('x', p.cap[0]).attr('y', p.cap[1])
    .attr('text-anchor', 'middle')
    .attr('font-family', '"Liberation Serif", "Times New Roman", serif')
    .attr('font-size', 22.5).attr('fill', '#111')
    .style('white-space', 'pre');
  cap.append('tspan').text(p.caption[0]);
  cap.append('tspan').attr('font-size', 15).attr('dy', 3).text(p.caption[1]);
});
</script>
</body>
</html>
